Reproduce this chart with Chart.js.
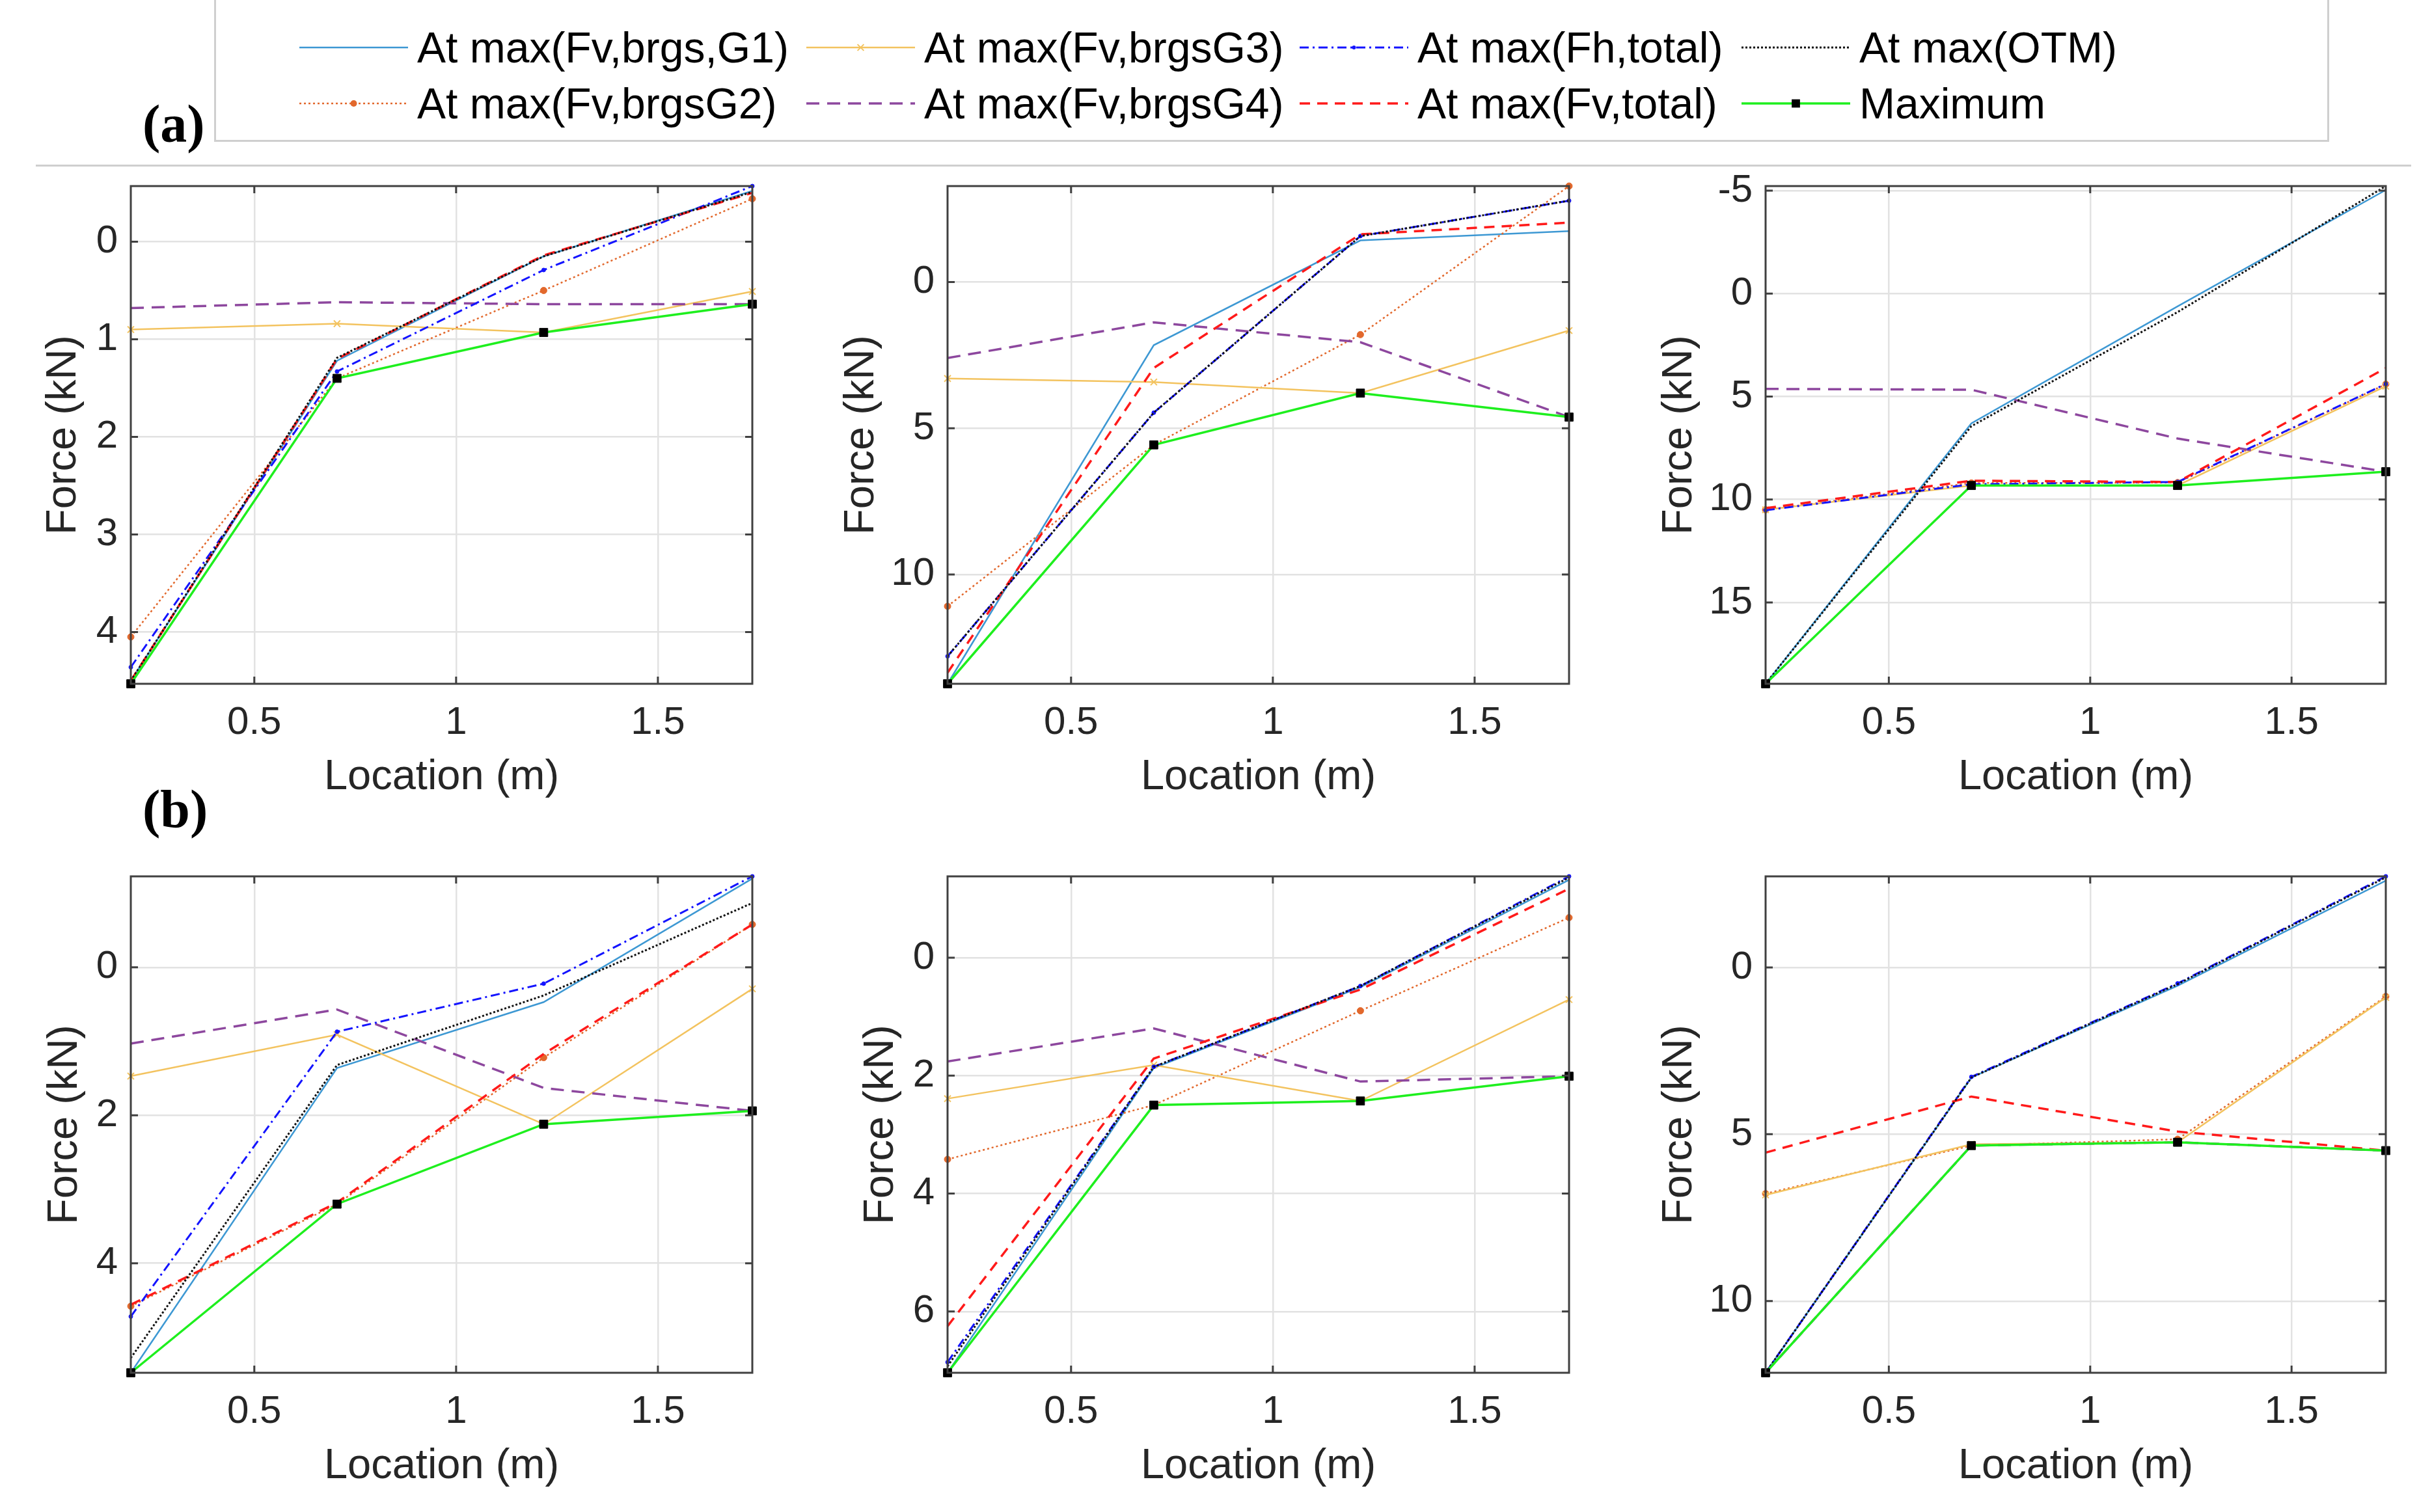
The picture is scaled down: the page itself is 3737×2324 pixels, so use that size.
<html><head>
<meta charset="UTF-8">
<title>Force envelopes</title>
<script src="https://cdn.jsdelivr.net/npm/chart.js"></script>
<style>
  html, body { margin: 0; padding: 0; background: #fff; }
  #page { position: relative; width: 3737px; height: 2324px; overflow: hidden; font-family: "Liberation Sans", Arial, sans-serif; color: #262626; }
  canvas { position: absolute; }
  .legend-box { position: absolute; left: 329px; top: -4px; width: 3250px; height: 222px; border: 3px solid #cfcfcf; box-sizing: border-box; }
  .sep { position: absolute; left: 55px; top: 253px; width: 3650px; height: 3px; background: #cfcfcf; }
  .leg-item { position: absolute; height: 80px; display: flex; align-items: center; font-size: 66px; white-space: nowrap; color: #000; }
  .leg-item svg { margin-right: 14px; }
  .tag { position: absolute; font-family: "Liberation Serif", "Times New Roman", serif; font-weight: bold; font-size: 82px; line-height: 90px; color: #000; }
</style>
</head>
<body>
<div id="page">
  <div class="legend-box"></div>
  <div class="sep"></div>
  <div class="tag" style="left:219px; top:146px;">(a)</div>
  <div class="tag" style="left:219px; top:1199px;">(b)</div>
</div>

<script>
// x positions along the member (m) and tick labels
const locations = [0.194, 0.705, 1.217, 1.734];
const xTicks = [0.5, 1, 1.5];

const seriesNames = ['At max(Fv,brgs,G1)', 'At max(Fv,brgsG2)', 'At max(Fv,brgsG3)', 'At max(Fv,brgsG4)',
                     'At max(Fh,total)', 'At max(Fv,total)', 'At max(OTM)', 'Maximum'];

// rows: G1, G2, G3, G4, Fh total, Fv total, OTM, Maximum  (kN)
const forceA1 = [
  [4.50, 1.22, 0.15, -0.52],
  [4.05, 1.40, 0.50, -0.44],
  [0.90, 0.84, 0.93, 0.51],
  [0.68, 0.62, 0.64, 0.64],
  [4.36, 1.33, 0.29, -0.57],
  [4.50, 1.20, 0.14, -0.50],
  [4.50, 1.19, 0.15, -0.51],
  [4.53, 1.40, 0.93, 0.64]
];
const forceA2 = [
  [13.74, 2.16, -1.42, -1.74],
  [11.09, 5.57, 1.80, -3.28],
  [3.30, 3.42, 3.80, 1.66],
  [2.60, 1.38, 2.06, 4.62],
  [12.80, 4.47, -1.57, -2.78],
  [13.36, 2.94, -1.63, -2.03],
  [12.80, 4.47, -1.57, -2.78],
  [13.74, 5.57, 3.80, 4.62]
];
const forceA3 = [
  [18.95, 6.30, 0.62, -5.03],
  [10.50, 9.20, 9.18, 4.40],
  [10.50, 9.32, 9.32, 4.50],
  [4.63, 4.67, 7.04, 8.65],
  [10.52, 9.26, 9.15, 4.39],
  [10.42, 9.09, 9.15, 3.62],
  [18.95, 6.44, 0.90, -5.22],
  [18.95, 9.32, 9.32, 8.65]
];
const forceB1 = [
  [5.48, 1.36, 0.47, -1.20],
  [4.58, 3.20, 1.22, -0.58],
  [1.47, 0.91, 2.12, 0.29],
  [1.03, 0.57, 1.63, 1.94],
  [4.72, 0.87, 0.22, -1.23],
  [4.56, 3.18, 1.17, -0.58],
  [5.28, 1.32, 0.38, -0.87],
  [5.48, 3.20, 2.12, 1.94]
];
const forceB2 = [
  [7.04, 1.87, 0.50, -1.32],
  [3.42, 2.50, 0.90, -0.68],
  [2.39, 1.82, 2.43, 0.71],
  [1.76, 1.20, 2.10, 2.01],
  [6.86, 1.85, 0.48, -1.38],
  [6.25, 1.71, 0.54, -1.17],
  [6.93, 1.85, 0.48, -1.36],
  [7.04, 2.50, 2.43, 2.01]
];
const forceB3 = [
  [12.15, 3.30, 0.55, -2.60],
  [6.78, 5.34, 5.15, 0.87],
  [6.82, 5.30, 5.24, 0.90],
  [12.15, 5.34, 5.24, 5.49],
  [12.15, 3.28, 0.48, -2.73],
  [5.55, 3.87, 4.92, 5.49],
  [12.15, 3.30, 0.50, -2.70],
  [12.15, 5.34, 5.24, 5.49]
];

const yTicksA1 = [0, 1, 2, 3, 4];
const yTicksA2 = [0, 5, 10];
const yTicksA3 = [-5, 0, 5, 10, 15];
const yTicksB1 = [0, 2, 4];
const yTicksB2 = [0, 2, 4, 6];
const yTicksB3 = [0, 5, 10];

// line styles, same order as the rows
const styles = [
  { color: '#3d98d3', width: 2.5, dash: [], marker: false },
  { color: '#e2682c', width: 2.5, dash: [3, 4], marker: 'circle', r: 5 },
  { color: '#f3c35f', width: 2.5, dash: [], marker: 'crossRot', r: 7 },
  { color: '#8d479e', width: 3.5, dash: [20, 12], marker: false },
  { color: '#1414ff', width: 3, dash: [14, 6, 3, 6], marker: 'circle', r: 3 },
  { color: '#ff1a1a', width: 3.5, dash: [16, 11], marker: false },
  { color: '#111111', width: 3, dash: [3, 3], marker: false },
  { color: '#1eef1e', width: 3.5, dash: [], marker: 'rect', r: 9, markerColor: '#000' }
];

const panels = [
  { rows: forceA1, yTicks: yTicksA1, left: 201, top: 286, right: 1156, bottom: 1051, titleOff: 103 },
  { rows: forceA2, yTicks: yTicksA2, left: 1456, top: 286, right: 2411, bottom: 1051, titleOff: 132 },
  { rows: forceA3, yTicks: yTicksA3, left: 2713, top: 286, right: 3666, bottom: 1051, titleOff: 132 },
  { rows: forceB1, yTicks: yTicksB1, left: 201, top: 1347, right: 1156, bottom: 2110, titleOff: 101 },
  { rows: forceB2, yTicks: yTicksB2, left: 1456, top: 1347, right: 2411, bottom: 2110, titleOff: 102 },
  { rows: forceB3, yTicks: yTicksB3, left: 2713, top: 1347, right: 3666, bottom: 2110, titleOff: 132 }
];

const page = document.getElementById('page');
const inkColor = '#262626';
const gridColor = '#e2e2e2';
const fontFamily = '"Liberation Sans", Arial, sans-serif';

// box around the plot area with inward ticks, like matlab
const axesBox = {
  id: 'axesBox',
  afterDatasetsDraw(chart) {
    const { ctx, chartArea: a, scales } = chart;
    const tl = 11;
    ctx.save();
    ctx.strokeStyle = '#404040';
    ctx.lineWidth = 3;
    ctx.beginPath();
    scales.x.ticks.forEach(t => {
      const px = scales.x.getPixelForValue(t.value);
      ctx.moveTo(px, a.bottom); ctx.lineTo(px, a.bottom - tl);
      ctx.moveTo(px, a.top); ctx.lineTo(px, a.top + tl);
    });
    scales.y.ticks.forEach(t => {
      const py = scales.y.getPixelForValue(t.value);
      ctx.moveTo(a.left, py); ctx.lineTo(a.left + tl, py);
      ctx.moveTo(a.right, py); ctx.lineTo(a.right - tl, py);
    });
    ctx.stroke();
    ctx.strokeRect(a.left, a.top, a.right - a.left, a.bottom - a.top);
    ctx.restore();
  }
};

const W = 210, H = 200, PT = 40, PR = 40;

panels.forEach(p => {
  const canvas = document.createElement('canvas');
  canvas.width = (p.right - p.left) + W + PR;
  canvas.height = (p.bottom - p.top) + PT + H;
  canvas.style.width = canvas.width + 'px';
  canvas.style.height = canvas.height + 'px';
  canvas.style.left = (p.left - W) + 'px';
  canvas.style.top = (p.top - PT) + 'px';
  page.appendChild(canvas);

  const all = p.rows.flat();
  const datasets = p.rows.map((vals, i) => {
    const s = styles[i];
    return {
      label: seriesNames[i],
      data: locations.map((x, j) => ({ x: x, y: vals[j] })),
      borderColor: s.color,
      borderWidth: s.width,
      borderDash: s.dash,
      tension: 0,
      fill: false,
      clip: false,
      pointStyle: s.marker || 'circle',
      pointRadius: s.marker ? s.r : 0,
      pointBorderColor: s.markerColor || s.color,
      pointBackgroundColor: s.markerColor || s.color,
      pointBorderWidth: s.marker === 'crossRot' ? 2 : 1,
      order: 7 - i
    };
  });

  new Chart(canvas, {
    type: 'line',
    data: { datasets: datasets },
    options: {
      responsive: false,
      animation: false,
      devicePixelRatio: 1,
      layout: { padding: { top: PT, right: PR, left: 0, bottom: 0 } },
      plugins: { legend: { display: false }, tooltip: { enabled: false } },
      scales: {
        x: {
          type: 'linear',
          min: Math.min(...locations),
          max: Math.max(...locations),
          afterBuildTicks: s => { s.ticks = xTicks.map(v => ({ value: v })); },
          afterFit: s => { s.height = H; s.paddingLeft = 0; s.paddingRight = 0; },
          grid: { color: gridColor, lineWidth: 2.5, drawTicks: false },
          border: { display: false },
          ticks: { padding: 24, color: inkColor, font: { family: fontFamily, size: 60 },
                   callback: v => String(v) },
          title: { display: true, text: 'Location (m)', color: inkColor,
                   font: { family: fontFamily, size: 65 }, padding: { top: 0, bottom: 17 } }
        },
        y: {
          type: 'linear',
          reverse: true,
          min: Math.min(...all),
          max: Math.max(...all),
          afterBuildTicks: s => { s.ticks = p.yTicks.map(v => ({ value: v })); },
          afterFit: s => { s.width = W; s.paddingTop = 0; s.paddingBottom = 0; },
          grid: { color: gridColor, lineWidth: 2.5, drawTicks: false },
          border: { display: false },
          ticks: { padding: 20, color: inkColor, font: { family: fontFamily, size: 60 },
                   callback: v => String(v) },
          title: { display: true, text: 'Force (kN)', color: inkColor,
                   font: { family: fontFamily, size: 65 },
                   padding: { top: W - p.titleOff - 39, bottom: 0 } }
        }
      }
    },
    plugins: [axesBox]
  });
});

// legend, 4 columns x 2 rows, filled down columns
const legendLineX = [460, 1239, 1997, 2676];
const legendRowY = [73, 159];

function sampleSvg(s) {
  const w = 167, h = 40, cy = 20;
  let svg = '<svg width="' + w + '" height="' + h + '">';
  svg += '<line x1="0" y1="' + cy + '" x2="' + w + '" y2="' + cy + '" stroke="' + s.color +
         '" stroke-width="' + s.width + '" stroke-dasharray="' + (s.dash.length ? s.dash.join(',') : 'none') + '"/>';
  const cx = w / 2, mc = s.markerColor || s.color;
  if (s.marker === 'circle') {
    svg += '<circle cx="' + cx + '" cy="' + cy + '" r="' + s.r + '" fill="' + mc + '"/>';
  } else if (s.marker === 'crossRot') {
    const d = s.r * 0.7;
    svg += '<path d="M' + (cx - d) + ' ' + (cy - d) + 'L' + (cx + d) + ' ' + (cy + d) + 'M' + (cx + d) + ' ' + (cy - d) +
           'L' + (cx - d) + ' ' + (cy + d) + '" stroke="' + mc + '" stroke-width="2"/>';
  } else if (s.marker === 'rect') {
    const d = s.r * 0.707;
    svg += '<rect x="' + (cx - d) + '" y="' + (cy - d) + '" width="' + (2 * d) + '" height="' + (2 * d) + '" fill="' + mc + '"/>';
  }
  return svg + '</svg>';
}

seriesNames.forEach((name, i) => {
  const col = Math.floor(i / 2), row = i % 2;
  const item = document.createElement('div');
  item.className = 'leg-item';
  item.style.left = legendLineX[col] + 'px';
  item.style.top = (legendRowY[row] - 40) + 'px';
  item.innerHTML = sampleSvg(styles[i]) + '<span>' + name + '</span>';
  page.appendChild(item);
});
</script>
</body></html>
